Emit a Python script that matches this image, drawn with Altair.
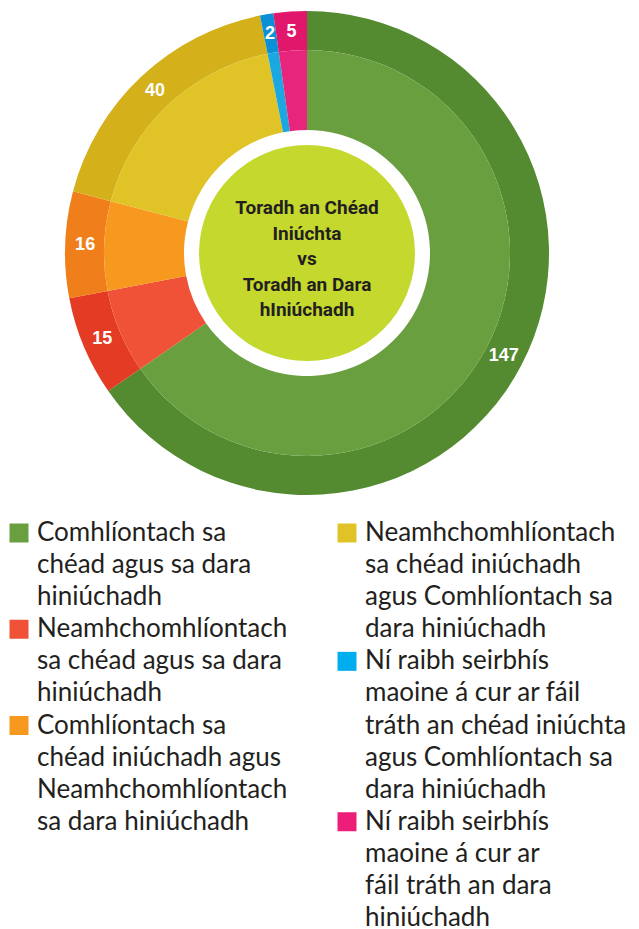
import altair as alt
import pandas as pd

# ---- data ----
categories = [
    "Comhlíontach sa chéad agus sa dara hiniúchadh",
    "Neamhchomhlíontach sa chéad agus sa dara hiniúchadh",
    "Comhlíontach sa chéad iniúchadh agus Neamhchomhlíontach sa dara hiniúchadh",
    "Neamhchomhlíontach sa chéad iniúchadh agus Comhlíontach sa dara hiniúchadh",
    "Ní raibh seirbhís maoine á cur ar fáil tráth an chéad iniúchta agus Comhlíontach sa dara hiniúchadh",
    "Ní raibh seirbhís maoine á cur ar fáil tráth an dara hiniúchadh",
]
values = [147, 15, 16, 40, 2, 5]
legend_lines = [
    ["Comhlíontach sa", "chéad agus sa dara", "hiniúchadh"],
    ["Neamhchomhlíontach", "sa chéad agus sa dara", "hiniúchadh"],
    ["Comhlíontach sa", "chéad iniúchadh agus", "Neamhchomhlíontach", "sa dara hiniúchadh"],
    ["Neamhchomhlíontach", "sa chéad iniúchadh", "agus Comhlíontach sa", "dara hiniúchadh"],
    ["Ní raibh seirbhís", "maoine á cur ar fáil", "tráth an chéad iniúchta", "agus Comhlíontach sa", "dara hiniúchadh"],
    ["Ní raibh seirbhís", "maoine á cur ar", "fáil tráth an dara", "hiniúchadh"],
]
legend_column = [0, 0, 0, 1, 1, 1]
center_title = ["Toradh an Chéad", "Iniúchta", "vs", "Toradh an Dara", "hIniúchadh"]

# ---- styles ----
outer_colors = ["#558b30", "#e33b24", "#f07f1b", "#d4b11b", "#0b8fd6", "#e0176a"]
inner_colors = ["#6a9f40", "#ef5236", "#f7981f", "#e0c427", "#1ba8e0", "#e8257c"]
legend_colors = ["#6a9f40", "#ef5236", "#f7981f", "#e0c427", "#00aeef", "#ec1e79"]
lime = "#c5d82e"
text_dark = "#231f20"
CX, CY = 299, 245

pie = pd.DataFrame({"cat": categories, "value": values, "idx": list(range(len(values)))})

# legend tables
line_rows, sq_rows = [], []
line_counter = {0: 0, 1: 0}
for i, (lines, col) in enumerate(zip(legend_lines, legend_column)):
    sq_rows.append({"cat": categories[i], "col": col, "line": line_counter[col]})
    for ln in lines:
        line_rows.append({"col": col, "line": line_counter[col], "text": ln})
        line_counter[col] += 1
leg_text = pd.DataFrame(line_rows)
leg_sq = pd.DataFrame(sq_rows)

theta = alt.Theta("value:Q", stack=True)
order = alt.Order("idx:Q")

outer = alt.Chart(pie).mark_arc(radius=242, innerRadius=203).encode(
    theta=theta, order=order,
    color=alt.Color("cat:N", scale=alt.Scale(domain=categories, range=outer_colors), legend=None),
    x=alt.value(CX), y=alt.value(CY),
)
inner = alt.Chart(pie).mark_arc(radius=203, innerRadius=123).encode(
    theta=theta, order=order,
    color=alt.Color("cat:N", scale=alt.Scale(domain=categories, range=inner_colors), legend=None),
    x=alt.value(CX), y=alt.value(CY),
)
labels = alt.Chart(pie).mark_text(
    radius=222, fontSize=18, fontWeight="bold", color="white", font="Liberation Sans"
).encode(theta=theta, order=order, text="value:Q", x=alt.value(CX), y=alt.value(CY))

disc = alt.Chart(pd.DataFrame({"k": [0]})).mark_circle(
    size=(2 * 108) ** 2, color=lime, opacity=1
).encode(x=alt.value(CX), y=alt.value(CY))

title = alt.Chart(pd.DataFrame({"k": [0]})).mark_text(
    text=center_title, fontSize=19, fontWeight="bold", font="Roboto",
    color=text_dark, lineHeight=25.5, baseline="middle", align="center"
).encode(x=alt.value(CX), y=alt.value(CY - 45))

xs = alt.Scale(domain=[0, 1], range=[29, 357])
ys = alt.Scale(domain=[0, 12], range=[525, 910])

leg_t = alt.Chart(leg_text).mark_text(
    align="left", baseline="middle", fontSize=26, font="Lato", color=text_dark
).encode(
    x=alt.X("col:Q", scale=xs, axis=None),
    y=alt.Y("line:Q", scale=ys, axis=None),
    text="text:N",
)
leg_s = alt.Chart(leg_sq).mark_square(size=361, opacity=1, xOffset=-18).encode(
    x=alt.X("col:Q", scale=xs, axis=None),
    y=alt.Y("line:Q", scale=ys, axis=None),
    color=alt.Color("cat:N", scale=alt.Scale(domain=categories, range=legend_colors), legend=None),
)

chart = (
    alt.layer(outer, inner, labels, disc, title, leg_s, leg_t)
    .resolve_scale(color="independent")
    .properties(width=623, height=928, padding=0)
    .configure_view(stroke=None)
)

chart.save("out.html", embed_options={"renderer": "svg", "actions": False})
